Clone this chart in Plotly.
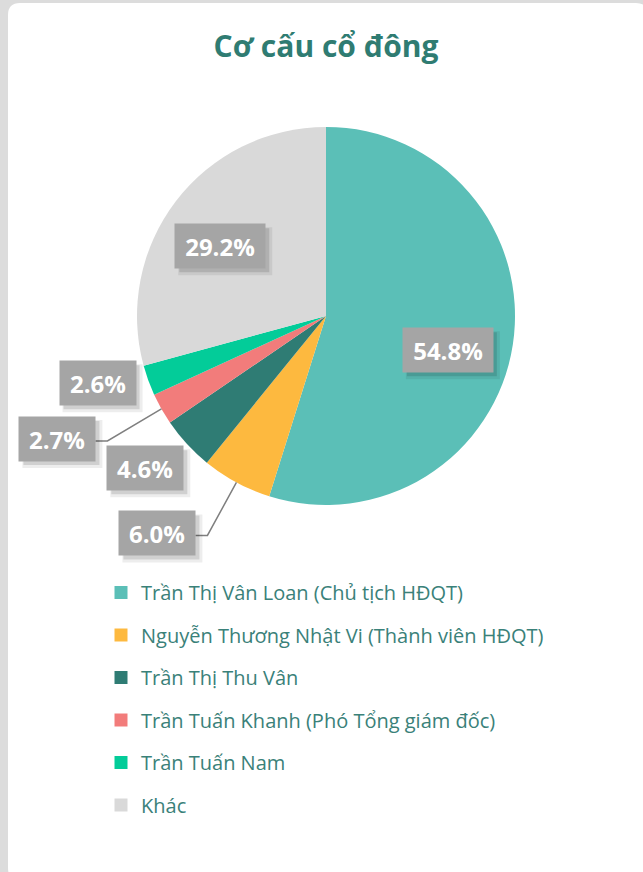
import math
import plotly.graph_objects as go

# ---------------- data ----------------
labels = [
    "Trần Thị Vân Loan (Chủ tịch HĐQT)",
    "Nguyễn Thương Nhật Vi (Thành viên HĐQT)",
    "Trần Thị Thu Vân",
    "Trần Tuấn Khanh (Phó Tổng giám đốc)",
    "Trần Tuấn Nam",
    "Khác",
]
values = [54.8, 6.0, 4.6, 2.7, 2.6, 29.2]
colors = ["#5BBFB7", "#FDB93F", "#2F7C74", "#F27C7B", "#03CC99", "#D9D9D9"]
title_text = "Cơ cấu cổ đông"

# ---------------- layout constants (pixels) ----------------
W, H = 643, 872
CX, CY, R = 326, 316, 189
TEXT_COLOR = "#2F7C72"


def px(x):
    return x / W


def py(y):
    return 1 - y / H


# label placement style
# "r": place at radius factor * R along (mid angle + nudge degrees)
# "o": place with pixel offset from slice edge point, with elbow leader line
label_style = [
    ("r", 0.67, 7),
    ("o", (-79, 51), None),
    ("r", 1.25, 2.5),
    ("o", (-104, 30), None),
    ("r", 1.26, 3.5),
    ("r", 0.67, -4),
]
BOX_H = 30
PAD = 7

fig = go.Figure()

fig.add_trace(go.Pie(
    labels=labels,
    values=values,
    sort=False,
    direction="clockwise",
    rotation=0,
    marker=dict(colors=colors, line=dict(width=0)),
    textinfo="none",
    hoverinfo="label+percent",
    showlegend=False,
    domain=dict(x=[px(CX - R), px(CX + R)], y=[py(CY + R), py(CY - R)]),
))

# legend via dummy traces (one group each, to control spacing)
for lab, col in zip(labels, colors):
    fig.add_trace(go.Scatter(
        x=[None], y=[None], mode="markers", name=lab,
        marker=dict(symbol="square", size=13, color=col, line=dict(width=0)),
        legendgroup=lab, showlegend=True,
    ))

total = sum(values)
cum = 0.0
annotations = []
shapes = []

# card background
shapes.append(dict(
    type="rect", xref="paper", yref="paper", layer="below",
    x0=0, y0=0, x1=1, y1=1, fillcolor="#DCDCDC", line=dict(width=0),
))
rr = 12
x0, y0, x1, y1 = 8, 3, 648, 880
path = (f"M {px(x0 + rr)},{py(y0)} L {px(x1 - rr)},{py(y0)} "
        f"Q {px(x1)},{py(y0)} {px(x1)},{py(y0 + rr)} "
        f"L {px(x1)},{py(y1 - rr)} Q {px(x1)},{py(y1)} {px(x1 - rr)},{py(y1)} "
        f"L {px(x0 + rr)},{py(y1)} Q {px(x0)},{py(y1)} {px(x0)},{py(y1 - rr)} "
        f"L {px(x0)},{py(y0 + rr)} Q {px(x0)},{py(y0)} {px(x0 + rr)},{py(y0)} Z")
shapes.append(dict(type="path", xref="paper", yref="paper", layer="below",
                   path=path, fillcolor="white", line=dict(width=0)))

for v, style in zip(values, label_style):
    mid = (cum + v / 2) / total * 360
    cum += v
    txt = f"{v:.1f}%"
    bw = 14 * len(txt) + 6  # inner text width
    mode = style[0]
    if mode == "r":
        ang = math.radians(mid + style[2])
        lx = CX + style[1] * R * math.sin(ang)
        ly = CY - style[1] * R * math.cos(ang)
    else:
        ang = math.radians(mid)
        ex = CX + R * math.sin(ang)
        ey = CY - R * math.cos(ang)
        lx = ex + style[1][0]
        ly = ey + style[1][1]
        bx = lx + bw / 2 + PAD  # right edge of the label box
        shapes.append(dict(
            type="path", xref="paper", yref="paper",
            path=f"M {px(ex)},{py(ey)} L {px(bx + 12)},{py(ly + 2)} L {px(bx)},{py(ly + 2)}",
            line=dict(color="#7F7F7F", width=1.5),
        ))
    # soft drop shadow
    hw = bw / 2 + PAD
    hh = BOX_H / 2 + PAD
    for off, alpha, grow in ((5, 0.07, 2), (4, 0.12, 0)):
        shapes.append(dict(
            type="rect", xref="paper", yref="paper",
            x0=px(lx - hw + off - grow), x1=px(lx + hw + off + grow),
            y0=py(ly + hh + off + grow), y1=py(ly - hh + off - grow),
            fillcolor=f"rgba(0,0,0,{alpha})", line=dict(width=0),
        ))
    annotations.append(dict(
        x=px(lx), y=py(ly), xref="paper", yref="paper", showarrow=False,
        xanchor="center", yanchor="middle",
        text=f"<b>{txt}</b>", width=bw, height=BOX_H,
        font=dict(family="Open Sans", size=24, color="white"),
        bgcolor="#A5A5A5", borderpad=PAD,
    ))

fig.update_layout(
    width=W, height=H,
    margin=dict(l=0, r=0, t=0, b=0),
    paper_bgcolor="white", plot_bgcolor="rgba(0,0,0,0)",
    title=dict(text=f"<b>{title_text}</b>", x=px(CX), xanchor="center",
               y=py(46), yanchor="middle", yref="paper",
               font=dict(family="Open Sans", size=30, color=TEXT_COLOR)),
    xaxis=dict(visible=False, domain=[0, 0.01]),
    yaxis=dict(visible=False, domain=[0, 0.01]),
    legend=dict(
        x=px(101), y=py(573), xanchor="left", yanchor="top",
        font=dict(family="Open Sans", size=20, color="#3A8179"),
        tracegroupgap=13.5, itemwidth=30, bgcolor="rgba(0,0,0,0)",
    ),
    shapes=shapes,
    annotations=annotations,
)

fig.write_html(
    "out.html",
    config={"displayModeBar": False},
    post_script="document.body.style.margin='0px';document.body.style.overflow='hidden';",
)
